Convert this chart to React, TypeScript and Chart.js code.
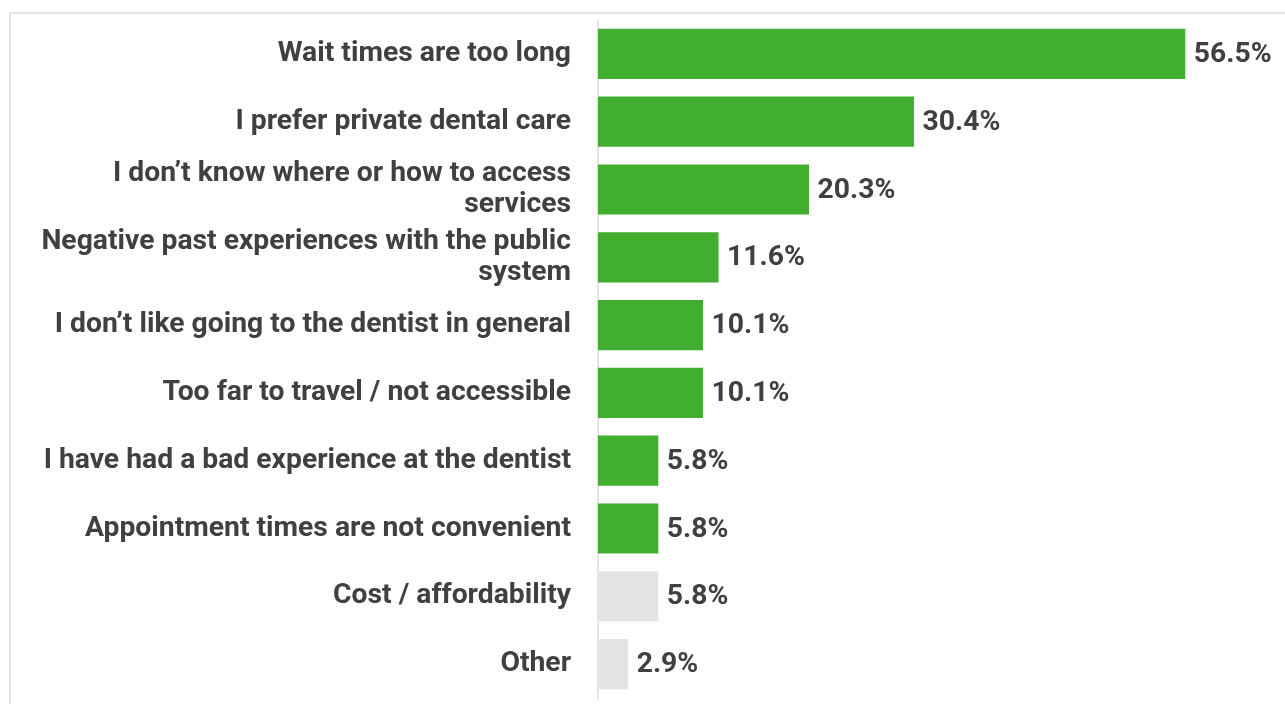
import React, { useEffect, useRef } from "react";
import { Chart, registerables } from "chart.js";

Chart.register(...registerables);

const categories: (string | string[])[] = [
  "Wait times are too long",
  "I prefer private dental care",
  ["I don’t know where or how to access", "services"],
  ["Negative past experiences with the public", "system"],
  "I don’t like going to the dentist in general",
  "Too far to travel / not accessible",
  "I have had a bad experience at the dentist",
  "Appointment times are not convenient",
  "Cost / affordability",
  "Other",
];

const values: number[] = [56.5, 30.4, 20.3, 11.6, 10.1, 10.1, 5.8, 5.8, 5.8, 2.9];

const barColors: string[] = [
  "#42ae2f", "#42ae2f", "#42ae2f", "#42ae2f", "#42ae2f",
  "#42ae2f", "#42ae2f", "#42ae2f", "#e4e4e4", "#e4e4e4",
];

const TEXT = "#404040";
const FONT = "Roboto";

const valueLabels = {
  id: "valueLabels",
  afterDatasetsDraw(chart: any) {
    const ctx = chart.ctx;
    const meta = chart.getDatasetMeta(0);
    ctx.save();
    ctx.font = `bold 28.3px ${FONT}`;
    ctx.fillStyle = TEXT;
    ctx.textAlign = "left";
    ctx.textBaseline = "middle";
    meta.data.forEach((el: any, i: number) => {
      ctx.fillText(values[i].toFixed(1) + "%", el.x + 8.5, el.y + 1);
    });
    ctx.restore();
  },
};

export default function App() {
  const ref = useRef<HTMLCanvasElement>(null);
  useEffect(() => {
    if (!ref.current) return;
    const chart = new Chart(ref.current, {
      type: "bar",
      data: {
        labels: categories as any,
        datasets: [
          {
            data: values,
            backgroundColor: barColors,
            borderWidth: 0,
            barPercentage: 0.74,
            categoryPercentage: 1,
          },
        ],
      },
      options: {
        indexAxis: "y",
        animation: false,
        responsive: false,
        maintainAspectRatio: false,
        layout: { padding: { top: 20, bottom: 6, left: 0, right: 1 } },
        plugins: {
          legend: { display: false },
          tooltip: { enabled: false },
        },
        scales: {
          x: {
            display: false,
            min: 0,
            max: 66,
          },
          y: {
            afterFit: (scale: any) => {
              scale.width = 598;
              scale.paddingTop = 0;
              scale.paddingBottom = 0;
            },
            grid: { display: false, drawTicks: false },
            border: { display: true, color: "#e4e4e4", width: 2 },
            ticks: {
              padding: 27,
              color: TEXT,
              font: { family: FONT, size: 28.3, weight: "bold", lineHeight: 1.09 },
            },
          },
        },
      },
      plugins: [valueLabels],
    });
    return () => chart.destroy();
  }, []);

  return (
    <div style={{ position: "fixed", left: 0, top: 0, width: 1285, height: 704, overflow: "hidden", background: "#fff" }}>
      <div
        style={{
          position: "absolute",
          left: 9,
          top: 12,
          width: 2000,
          height: 2000,
          borderTop: "2px solid #e6e6e6",
          borderLeft: "2px solid #e6e6e6",
        }}
      />
      <canvas ref={ref} width={1285} height={704} style={{ position: "absolute", left: 0, top: 0 }} />
    </div>
  );
}
